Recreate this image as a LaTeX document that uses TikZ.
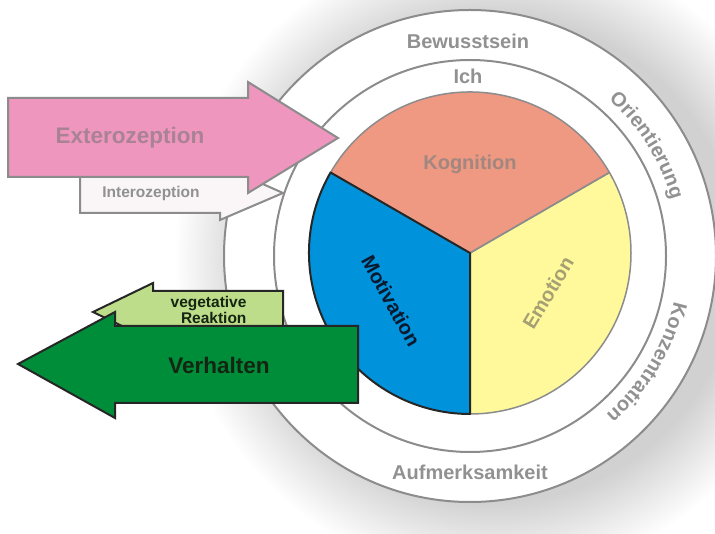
\documentclass[tikz,border=0pt]{standalone}
\usepackage{fontspec}
\setmainfont{Liberation Sans}
\usetikzlibrary{decorations.text}

\definecolor{kogfill}{RGB}{239,152,130}
\definecolor{motfill}{RGB}{0,146,218}
\definecolor{emofill}{RGB}{255,249,155}
\definecolor{extfill}{RGB}{238,150,190}
\definecolor{intfill}{RGB}{250,246,248}
\definecolor{vegfill}{RGB}{190,221,138}
\definecolor{verfill}{RGB}{0,141,58}
\definecolor{ringgray}{RGB}{140,140,140}
\definecolor{labelgray}{RGB}{145,145,145}
\definecolor{kogtext}{RGB}{160,135,128}
\definecolor{emotext}{RGB}{165,160,115}
\definecolor{mottext}{RGB}{10,25,45}
\definecolor{exttext}{RGB}{170,130,150}
\definecolor{darktext}{RGB}{20,38,18}

\pgfdeclareradialshading{ringglow}{\pgfpoint{0bp}{0bp}}{color(0bp)=(black!18); color(19bp)=(black!18); color(25bp)=(white); color(50bp)=(white)}

\begin{document}
\begin{tikzpicture}[
    x=1pt, y=1pt,
    ring/.style={draw=ringgray, line width=2pt, fill=white},
    ringlabel/.style={text=labelgray, font=\fontsize{20}{24}\selectfont\bfseries},
    piepart/.style={draw=ringgray, line width=1.5pt, line join=round},
    inarrow/.style={draw=ringgray, line width=2pt},
    outarrow/.style={draw=black!85, line width=2pt},
    bigtext/.style={font=\fontsize{22.5}{26}\selectfont\bfseries},
    smalltext/.style={font=\fontsize{15.5}{16}\selectfont\bfseries},
]

% Canvas and soft shadow behind the rings
\useasboundingbox (0,0) rectangle (715,533);
\fill[white] (0,0) rectangle (715,533);
\clip (0,0) rectangle (715,533);
\shade[shading=ringglow] (494,274) circle[radius=320];

\coordinate (ring) at (470,277);
\coordinate (pie) at (470,280);

% Bewusstsein and Ich rings
\draw[ring] (ring) circle[radius=246];
\draw[ring] (ring) circle[radius=196];

% Three sectors
\fill[kogfill] (pie) -- ++(30:161) arc[start angle=30, end angle=150, radius=161] -- cycle;
\fill[emofill] (pie) -- ++(-90:161) arc[start angle=-90, end angle=30, radius=161] -- cycle;
\fill[motfill] (pie) -- ++(150:161) arc[start angle=150, end angle=270, radius=161] -- cycle;
\draw[piepart] (pie) -- ++(30:161) arc[start angle=30, end angle=150, radius=161] -- cycle;
\draw[piepart] (pie) -- ++(-90:161) arc[start angle=-90, end angle=30, radius=161] -- cycle;
\draw[outarrow, line join=round] (pie) -- ++(150:161) arc[start angle=150, end angle=270, radius=161] -- cycle;

\node[ringlabel, text=kogtext] (kog) at (470,369) {Kognition};
\node[ringlabel, text=mottext, rotate=-61] (mot) at (391,232) {Motivation};
\node[ringlabel, text=emotext, rotate=59] (emo) at (548,240) {Emotion};

% Ring labels
\node[ringlabel] (bew) at (468,492) {Bewusstsein};
\node[ringlabel] (ich) at (468,457) {Ich};
\node[ringlabel] (auf) at (470,61) {Aufmerksamkeit};
\path[decorate, decoration={text along path, text align=center, text color=labelgray,
    text={|\fontsize{20}{24}\selectfont\bfseries|Orientierung}}]
  ([shift={(ring)}]54:209) arc[start angle=54, end angle=10, radius=209];
\path[decorate, decoration={text along path, text align=center, text color=labelgray,
    text={|\fontsize{20}{24}\selectfont\bfseries|Konzentration}}]
  ([shift={(ring)}]-9:209) arc[start angle=-9, end angle=-53, radius=209];

% Incoming: Interozeption and Exterozeption
\draw[inarrow, fill=intfill] (80,361) -- (220,361) -- (220,368) -- (283,340) -- (220,313) -- (220,320) -- (80,320) -- cycle;
\node[smalltext, text=labelgray] (intero) at (151,340) {Interozeption};
\draw[inarrow, fill=extfill] (8,435) -- (248,435) -- (248,451) -- (338,395) -- (248,340) -- (248,356) -- (8,356) -- cycle;
\node[bigtext, text=exttext] (extero) at (130,395) {Exterozeption};

% Outgoing: vegetative Reaktion and Verhalten
\draw[outarrow, fill=vegfill] (283,242) -- (153,242) -- (153,250) -- (93,221) -- (153,192) -- (153,200) -- (283,200) -- cycle;
\node[smalltext, text=darktext, align=right, anchor=east] (veg) at (250,223) {vegetative\\Reaktion};
\draw[outarrow, fill=verfill] (358,207) -- (115,207) -- (115,221) -- (18,169) -- (115,115) -- (115,130) -- (358,130) -- cycle;
\node[bigtext, text=darktext] (verh) at (219,168) {Verhalten};

\end{tikzpicture}
\end{document}
